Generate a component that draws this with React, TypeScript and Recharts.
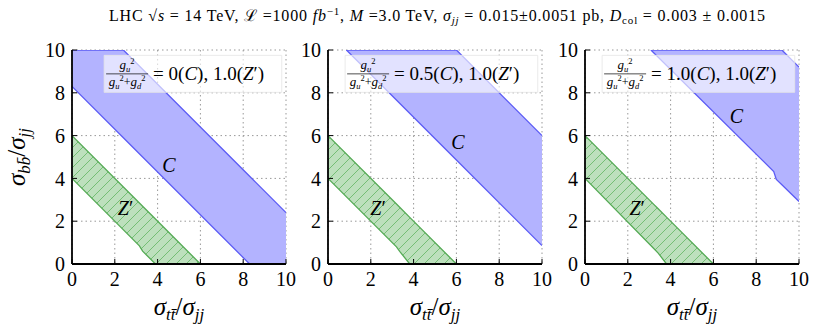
import React from "react";
import {
  ComposedChart,
  Area,
  XAxis,
  YAxis,
  CartesianGrid,
  ReferenceArea,
  ReferenceDot,
} from "recharts";

const SERIF = "'Liberation Serif', 'DejaVu Serif', serif";

const TICKS = [0, 2, 4, 6, 8, 10];
const COUPLINGS = ["0", "0.5", "1.0"];

// C band (blue): x, lower edge, upper edge
const C1_X = [0, 2.4, 8.3, 10];
const C1_LO = [8.3, 5.9, 0, 0];
const C1_HI = [10, 10, 4.1, 2.4];

const C2_X = [0.86, 6, 10];
const C2_LO = [10, 4.86, 0.86];
const C2_HI = [10, 10, 6];

const C3_X = [3.08, 8.82, 8.94, 9.2, 10];
const C3_LO = [10, 4.32, 3.95, 3.7, 2.92];
const C3_HI = [10, 10, 10, 10, 9.2];

// Z' band (green, hatched)
const Z1_X = [0, 3.15, 3.3, 3.9, 6];
const Z1_LO = [4, 0.85, 0.6, 0, 0];
const Z1_HI = [6, 2.85, 2.7, 2.1, 0];

const Z2_X = [0, 3.2, 3.35, 3.82, 6];
const Z2_LO = [4, 0.8, 0.59, 0, 0];
const Z2_HI = [6, 2.8, 2.65, 2.18, 0];

const Z3_X = [0, 3.19, 3.42, 3.81, 6];
const Z3_LO = [4, 0.75, 0.51, 0, 0];
const Z3_HI = [6, 2.81, 2.58, 2.19, 0];

// text label positions (data coords)
const C_LABEL = [[4.53, 4.63], [6.07, 5.72], [7.08, 6.9]];
const Z_LABEL = [[2.5, 2.6], [2.34, 2.6], [2.44, 2.6]];
const LEGEND_X1 = [1.5, 0.8, 0.8];

const band = (xs: number[], lo: number[], hi: number[]) =>
  xs.map((x, i) => ({ x, r: [lo[i], hi[i]] }));

const PANELS = [
  { c: band(C1_X, C1_LO, C1_HI), z: band(Z1_X, Z1_LO, Z1_HI) },
  { c: band(C2_X, C2_LO, C2_HI), z: band(Z2_X, Z2_LO, Z2_HI) },
  { c: band(C3_X, C3_LO, C3_HI), z: band(Z3_X, Z3_LO, Z3_HI) },
];

const PLOT_LEFT = [72, 328, 585];
const PLOT_W = 214;

const XTick = ({ x, y, payload }: any) => (
  <text x={x} y={y} dy="0.71em" textAnchor="middle" fontFamily={SERIF} fontSize={20} fill="#000">
    {payload.value}
  </text>
);

const YTick = ({ x, y, payload }: any) => (
  <text x={x} y={y} dy="0.36em" textAnchor="end" fontFamily={SERIF} fontSize={20} fill="#000">
    {payload.value}
  </text>
);

const RatioLabel = ({ x, y, sub, rotate }: any) => (
  <text
    x={x}
    y={y}
    textAnchor="middle"
    fontFamily={SERIF}
    fontSize={25}
    fill="#000"
    transform={rotate ? `rotate(-90 ${x} ${y})` : undefined}
  >
    <tspan fontStyle="italic">σ</tspan>
    <tspan fontSize={17} dy={5} fontStyle="italic">{sub}</tspan>
    <tspan dy={-5}>/</tspan>
    <tspan fontStyle="italic">σ</tspan>
    <tspan fontSize={17} dy={5} fontStyle="italic">jj</tspan>
  </text>
);

const LegendText = ({ viewBox, value }: any) => {
  const { x, y, height } = viewBox;
  const mid = y + height / 2;
  return (
    <g fontFamily={SERIF} fill="#000">
      <text x={x + 23} y={mid - 5} fontSize={13} textAnchor="middle">
        <tspan fontStyle="italic">g</tspan>
        <tspan fontSize={8.5} dy={3} fontStyle="italic">u</tspan>
        <tspan fontSize={8.5} dy={-8}>2</tspan>
      </text>
      <line x1={x + 2} x2={x + 44} y1={mid} y2={mid} stroke="#000" strokeWidth={0.7} />
      <text x={x + 23} y={mid + 12} fontSize={13} textAnchor="middle">
        <tspan fontStyle="italic">g</tspan>
        <tspan fontSize={8.5} dy={3} fontStyle="italic">u</tspan>
        <tspan fontSize={8.5} dy={-8}>2</tspan>
        <tspan fontSize={12} dy={5}>+</tspan>
        <tspan fontStyle="italic">g</tspan>
        <tspan fontSize={8.5} dy={3} fontStyle="italic">d</tspan>
        <tspan fontSize={8.5} dy={-8}>2</tspan>
      </text>
      <text x={x + 49} y={mid + 6} fontSize={19}>
        = {value}(<tspan fontStyle="italic">C</tspan>), 1.0(<tspan fontStyle="italic">Z</tspan>′)
      </text>
    </g>
  );
};

const Panel = ({ idx }: { idx: number }) => {
  const p = PANELS[idx];
  const first = idx === 0;
  const yAxisW = first ? 50 : 40;
  const leftMargin = first ? 22 : 0;
  const divLeft = PLOT_LEFT[idx] - yAxisW - leftMargin;
  const rightMargin = 12;
  const width = yAxisW + leftMargin + PLOT_W + rightMargin;
  return (
    <div style={{ position: "absolute", left: divLeft, top: 0 }}>
      <ComposedChart
        width={width}
        height={336}
        margin={{ top: 50, right: rightMargin, bottom: 0, left: leftMargin }}
      >
        <defs>
          <pattern id={`hatch${idx}`} patternUnits="userSpaceOnUse" width={10} height={10}>
            <rect width={10} height={10} fill="#bde0bd" />
            <path d="M0,10 L10,0 M-1,1 L1,-1 M9,11 L11,9" stroke="#62b562" strokeWidth={0.8} />
          </pattern>
        </defs>
        <CartesianGrid stroke="#999" strokeDasharray="1.5 3" />
        <Area
          data={p.c}
          dataKey="r"
          type="linear"
          fill="#b3b3ff"
          fillOpacity={1}
          stroke="#5c5cf5"
          strokeWidth={1.3}
          isAnimationActive={false}
        />
        <Area
          data={p.z}
          dataKey="r"
          type="linear"
          fill={`url(#hatch${idx})`}
          fillOpacity={1}
          stroke="#55aa55"
          strokeWidth={1.3}
          isAnimationActive={false}
        />
        <ReferenceArea
          x1={LEGEND_X1[idx]}
          x2={9.8}
          y1={8.02}
          y2={9.75}
          fill="#ffffff"
          fillOpacity={0.62}
          stroke="#e4e4e4"
          strokeWidth={0.8}
          label={(props: any) => <LegendText viewBox={props.viewBox} value={COUPLINGS[idx]} />}
        />
        <ReferenceDot
          x={C_LABEL[idx][0]}
          y={C_LABEL[idx][1]}
          r={0}
          shape={(s: any) => (
            <text x={s.cx} y={s.cy} textAnchor="middle" dominantBaseline="central" fontFamily={SERIF} fontStyle="italic" fontSize={20}>
              C
            </text>
          )}
        />
        <ReferenceDot
          x={Z_LABEL[idx][0]}
          y={Z_LABEL[idx][1]}
          r={0}
          shape={(s: any) => (
            <text x={s.cx} y={s.cy} textAnchor="middle" dominantBaseline="central" fontFamily={SERIF} fontSize={20}>
              <tspan fontStyle="italic">Z</tspan>′
            </text>
          )}
        />
        <XAxis
          type="number"
          dataKey="x"
          domain={[0, 10]}
          ticks={TICKS}
          allowDataOverflow
          height={72}
          tickSize={-5}
          tickMargin={13}
          tick={<XTick />}
          stroke="#000"
          axisLine={{ stroke: "#000", strokeWidth: 1.8 }}
          label={(props: any) => (
            <RatioLabel x={props.viewBox.x + props.viewBox.width / 2} y={props.viewBox.y + 51} sub="tt̄" />
          )}
        />
        <XAxis
          xAxisId="top"
          orientation="top"
          type="number"
          dataKey="x"
          domain={[0, 10]}
          ticks={TICKS}
          allowDataOverflow
          height={0}
          tickSize={-5}
          tick={false}
          stroke="#000"
          axisLine={{ stroke: "#000", strokeWidth: 1.8 }}
        />
        <YAxis
          type="number"
          domain={[0, 10]}
          ticks={TICKS}
          allowDataOverflow
          width={yAxisW}
          tickSize={-5}
          tickMargin={12}
          tick={<YTick />}
          stroke="#000"
          axisLine={{ stroke: "#000", strokeWidth: 1.8 }}
          label={
            first
              ? (props: any) => (
                  <RatioLabel x={props.viewBox.x + 3} y={props.viewBox.y + props.viewBox.height / 2} sub="bb̄" rotate />
                )
              : undefined
          }
        />
        <YAxis
          yAxisId="right"
          orientation="right"
          type="number"
          domain={[0, 10]}
          ticks={TICKS}
          allowDataOverflow
          width={0}
          tickSize={-5}
          tick={false}
          stroke="#000"
          axisLine={{ stroke: "#000", strokeWidth: 1.8 }}
        />
      </ComposedChart>
    </div>
  );
};

const Title = () => (
  <svg width={822} height={32} style={{ position: "absolute", left: 0, top: 0 }}>
    <text
      x={437}
      y={21}
      textAnchor="middle"
      fontFamily={SERIF}
      fontSize={16}
      fill="#000"
      textLength={656}
      lengthAdjust="spacing"
    >
      LHC √<tspan fontStyle="italic">s</tspan> = 14 TeV, ℒ =1000
      <tspan fontStyle="italic"> fb</tspan>
      <tspan fontSize={11} dy={-6}>−1</tspan>
      <tspan dy={6}>, </tspan>
      <tspan fontStyle="italic">M</tspan> =3.0 TeV, <tspan fontStyle="italic">σ</tspan>
      <tspan fontSize={11} dy={3} fontStyle="italic">jj</tspan>
      <tspan dy={-3}> = 0.015±0.0051 pb, </tspan>
      <tspan fontStyle="italic">D</tspan>
      <tspan fontSize={11} dy={3}>col</tspan>
      <tspan dy={-3}> = 0.003 ± 0.0015</tspan>
    </text>
  </svg>
);

export default function App() {
  return (
    <div style={{ position: "absolute", left: 0, top: 0, width: 822, height: 336, background: "#fff" }}>
      <Title />
      {[0, 1, 2].map((i) => (
        <Panel key={i} idx={i} />
      ))}
    </div>
  );
}
